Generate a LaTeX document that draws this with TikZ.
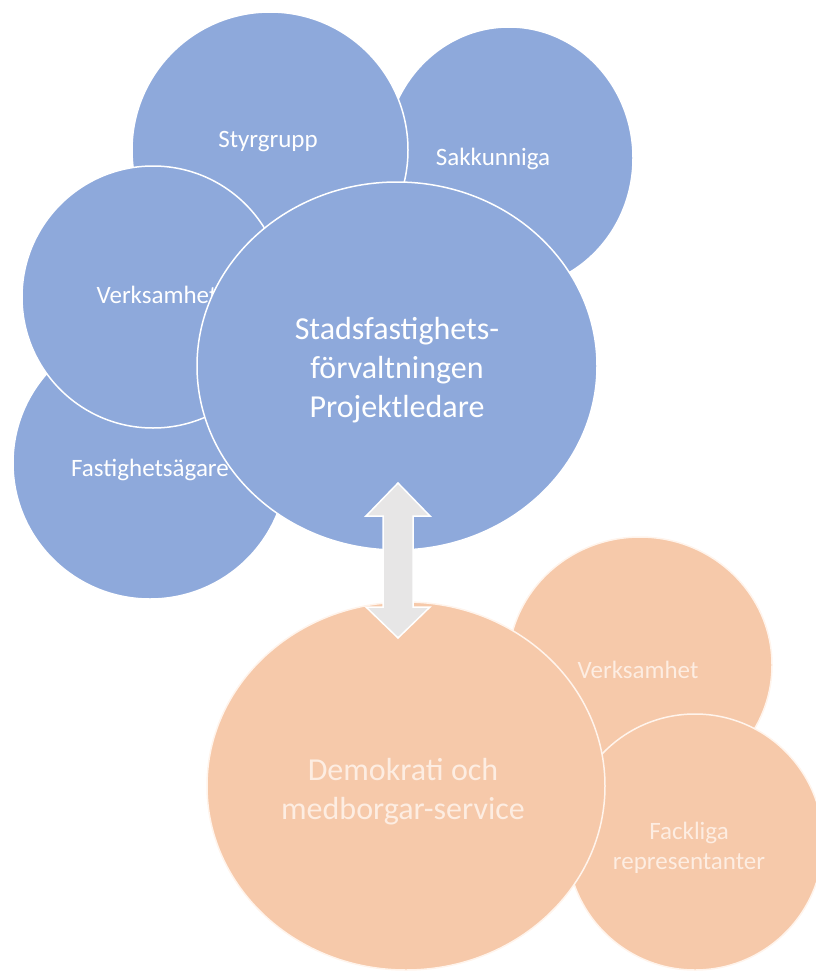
\documentclass[tikz,border=0pt]{standalone}
\usepackage{fontspec}
\setmainfont{Carlito}
\usetikzlibrary{shapes.geometric}
\definecolor{bfill}{HTML}{8EA9DB}
\definecolor{ofill}{HTML}{F6C9AA}
\definecolor{otext}{HTML}{FDEDE2}
\definecolor{oline}{HTML}{FFF4EC}
\definecolor{arrfill}{HTML}{E7E6E6}
\tikzset{
  bub/.style={ellipse, inner sep=0pt, line width=1.5pt},
  bluebub/.style={bub, fill=bfill, draw=white},
  orangebub/.style={bub, fill=ofill, draw=oline},
  smalltxt/.style={text=white, font=\fontsize{25}{30}\selectfont, align=center, inner sep=0pt},
  bigtxt/.style={text=white, font=\fontsize{32}{39}\selectfont, align=center, inner sep=0pt},
  osmall/.style={smalltxt, text=otext},
  obig/.style={bigtxt, text=otext},
  blockarrow/.style={fill=arrfill, draw=white, line width=1.5pt, line join=miter}
}
\begin{document}
\begin{tikzpicture}[x=1pt,y=-1pt]
\useasboundingbox (0,0) rectangle (816,974);
\clip (0,0) rectangle (816,974);
% blue group
\node[bluebub, minimum width=248, minimum height=262] (sakk) at (509,158) {};
\node[smalltxt] (sakkt) at (493,159) {Sakkunniga};
\node[bluebub, minimum width=276, minimum height=276] (styr) at (270,150) {};
\node[smalltxt] (styrt) at (268,142) {Styrgrupp};
\node[bluebub, minimum width=274, minimum height=272] (fast) at (150,463) {};
\node[smalltxt] (fastt) at (150,470) {Fastighetsägare};
\node[bluebub, minimum width=262, minimum height=262] (verk) at (153,297) {};
\node[smalltxt] (verkt) at (157,295) {Verksamhet};
\node[bluebub, minimum width=400, minimum height=368] (stad) at (397,366) {};
\node[bigtxt] (stadt) at (397,370) {Stadsfastighets-\\förvaltningen\\Projektledare};
% orange group
\node[orangebub, minimum width=264, minimum height=256] (verko) at (640,665) {};
\node[osmall] (verkot) at (638,670) {Verksamhet};
\node[orangebub, minimum width=256, minimum height=256] (fack) at (695,842) {};
\node[osmall] (fackt) at (689,848) {Fackliga\\representanter};
\node[orangebub, minimum width=398, minimum height=368] (demo) at (406,786) {};
\node[obig] (demot) at (403,792) {Demokrati och\\medborgar-service};
% double block arrow
\coordinate (atop) at (398,483);
\draw[blockarrow] (atop) -- ++(32,33) -- ++(-17,0) -- ++(0,91) -- ++(17,0)
  -- ++(-32,31) -- ++(-32,-31) -- ++(17,0) -- ++(0,-91) -- ++(-17,0) -- cycle;
\end{tikzpicture}
\end{document}
